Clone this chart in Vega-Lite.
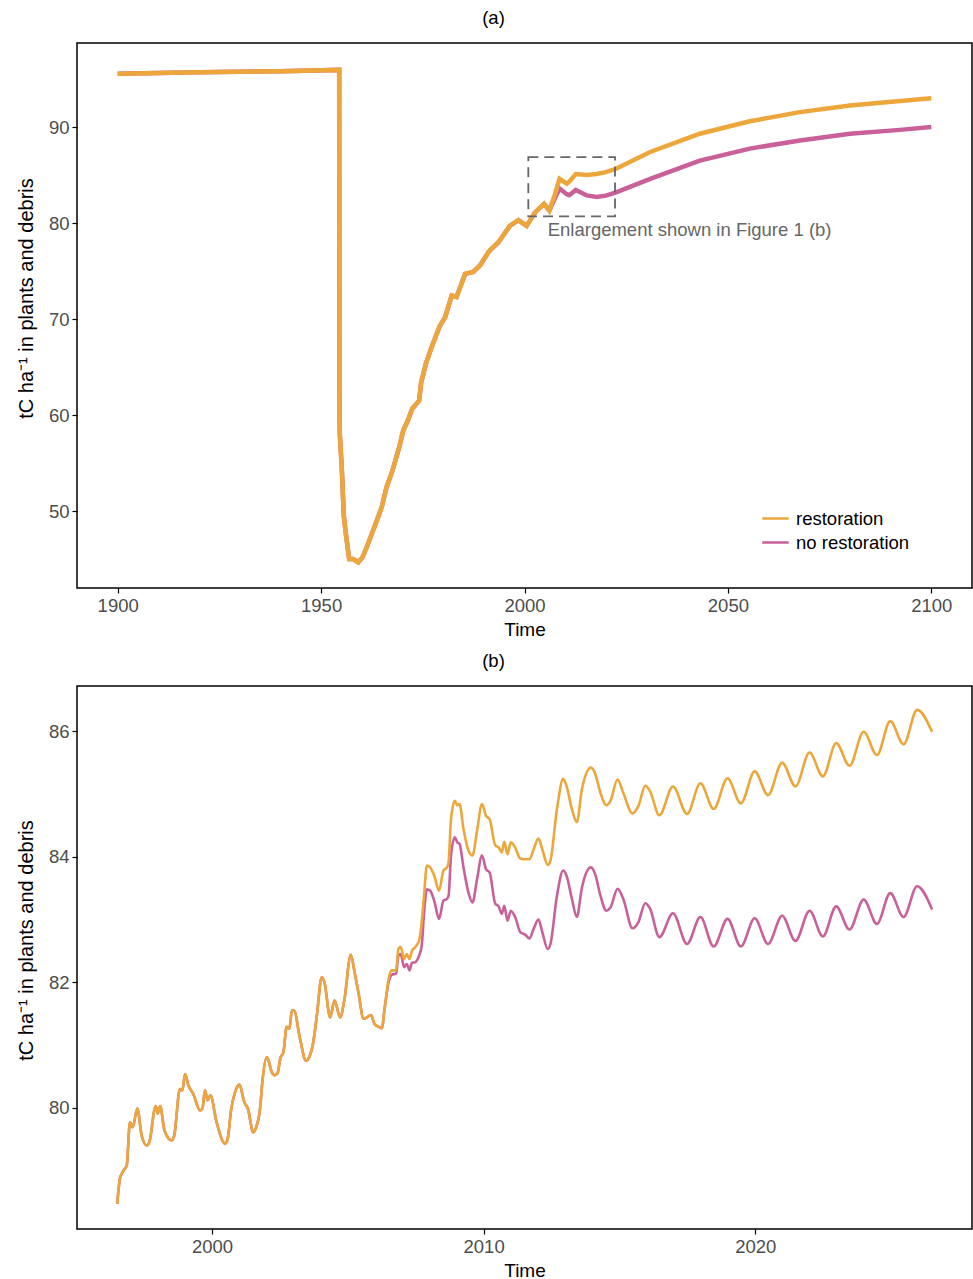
{
  "$schema": "https://vega.github.io/schema/vega-lite/v6.json",
  "background": "white",
  "padding": {"left": 15, "top": 7, "right": 0, "bottom": 0},
  "spacing": 9,
  "config": {
    "font": "Liberation Sans",
    "view": {"stroke": "black", "strokeWidth": 1.5},
    "axis": {"grid": false, "domain": false, "tickColor": "black", "tickWidth": 1.2, "tickSize": 5, "labelColor": "#4d4d4d", "labelFontSize": 18.5, "labelFont": "Liberation Sans", "labelPadding": 3, "titleFontSize": 19, "titleFont": "Liberation Sans", "titleFontWeight": "normal", "titleColor": "black", "titlePadding": 6},
    "axisY": {"titlePadding": 12},
    "legend": {"orient": "none", "title": null, "symbolType": "stroke", "symbolSize": 700, "symbolStrokeWidth": 2.5, "labelFontSize": 18.5, "labelFont": "Liberation Sans", "labelColor": "black", "labelOffset": 6, "rowPadding": -3.5, "padding": 0},
    "title": {"fontSize": 18.5, "fontWeight": "normal", "color": "black", "font": "Liberation Sans", "anchor": "middle", "offset": 16, "dx": -31}
  },
  "datasets": {
    "a": [
      {"t": 1900.0, "r": 95.55, "n": 95.55},
      {"t": 1920.0, "r": 95.7, "n": 95.7},
      {"t": 1940.0, "r": 95.82, "n": 95.82},
      {"t": 1954.45, "r": 95.95, "n": 95.95},
      {"t": 1954.5, "r": 62.5, "n": 62.5},
      {"t": 1954.6, "r": 58.0, "n": 58.0},
      {"t": 1955.07, "r": 54.6, "n": 54.6},
      {"t": 1955.6, "r": 49.4, "n": 49.4},
      {"t": 1956.1, "r": 47.6, "n": 47.6},
      {"t": 1956.9, "r": 45.0, "n": 45.0},
      {"t": 1957.9, "r": 45.0, "n": 45.0},
      {"t": 1959.15, "r": 44.65, "n": 44.65},
      {"t": 1960.2, "r": 45.2, "n": 45.2},
      {"t": 1961.2, "r": 46.2, "n": 46.2},
      {"t": 1962.45, "r": 47.6, "n": 47.6},
      {"t": 1963.7, "r": 49.0, "n": 49.0},
      {"t": 1964.9, "r": 50.4, "n": 50.4},
      {"t": 1966.1, "r": 52.5, "n": 52.5},
      {"t": 1967.4, "r": 54.0, "n": 54.0},
      {"t": 1969.2, "r": 56.65, "n": 56.65},
      {"t": 1970.2, "r": 58.4, "n": 58.4},
      {"t": 1971.3, "r": 59.4, "n": 59.4},
      {"t": 1972.4, "r": 60.65, "n": 60.65},
      {"t": 1974.1, "r": 61.5, "n": 61.5},
      {"t": 1974.6, "r": 63.4, "n": 63.4},
      {"t": 1975.8, "r": 65.4, "n": 65.4},
      {"t": 1977.2, "r": 67.1, "n": 67.1},
      {"t": 1979.1, "r": 69.2, "n": 69.2},
      {"t": 1980.5, "r": 70.2, "n": 70.2},
      {"t": 1982.1, "r": 72.45, "n": 72.45},
      {"t": 1983.3, "r": 72.3, "n": 72.3},
      {"t": 1985.4, "r": 74.7, "n": 74.7},
      {"t": 1987.4, "r": 74.9, "n": 74.9},
      {"t": 1989.1, "r": 75.6, "n": 75.6},
      {"t": 1991.35, "r": 77.1, "n": 77.1},
      {"t": 1993.6, "r": 78.0, "n": 78.0},
      {"t": 1996.4, "r": 79.7, "n": 79.7},
      {"t": 1998.5, "r": 80.3, "n": 80.3},
      {"t": 2000.5, "r": 79.7, "n": 79.7},
      {"t": 2002.6, "r": 81.1, "n": 81.1},
      {"t": 2004.8, "r": 82.0, "n": 82.0},
      {"t": 2006.1, "r": 81.3, "n": 81.3},
      {"t": 2007.5, "r": 83.0, "n": 82.6},
      {"t": 2008.6, "r": 84.6, "n": 83.6},
      {"t": 2010.4, "r": 84.1, "n": 83.0},
      {"t": 2011.0, "r": 84.3, "n": 82.9},
      {"t": 2012.6, "r": 85.1, "n": 83.45},
      {"t": 2015.3, "r": 85.0, "n": 82.87},
      {"t": 2017.7, "r": 85.1, "n": 82.7},
      {"t": 2020.0, "r": 85.3, "n": 82.85},
      {"t": 2022.5, "r": 85.65, "n": 83.2},
      {"t": 2030.9, "r": 87.4, "n": 84.6},
      {"t": 2043.1, "r": 89.3, "n": 86.5},
      {"t": 2055.4, "r": 90.6, "n": 87.75},
      {"t": 2067.7, "r": 91.55, "n": 88.6},
      {"t": 2080.0, "r": 92.25, "n": 89.3},
      {"t": 2092.3, "r": 92.7, "n": 89.7},
      {"t": 2100.0, "r": 93.0, "n": 90.0}
    ],
    "b": [
      {"t": 1996.51, "r": 78.47, "n": 78.47},
      {"t": 1996.61, "r": 78.87, "n": 78.87},
      {"t": 1996.74, "r": 79.0, "n": 79.0},
      {"t": 1996.86, "r": 79.08, "n": 79.08},
      {"t": 1996.98, "r": 79.77, "n": 79.77},
      {"t": 1997.08, "r": 79.69, "n": 79.69},
      {"t": 1997.25, "r": 79.99, "n": 79.99},
      {"t": 1997.41, "r": 79.56, "n": 79.56},
      {"t": 1997.6, "r": 79.4, "n": 79.4},
      {"t": 1997.69, "r": 79.45, "n": 79.45},
      {"t": 1997.93, "r": 80.03, "n": 80.03},
      {"t": 1998.0, "r": 79.91, "n": 79.91},
      {"t": 1998.09, "r": 80.03, "n": 80.03},
      {"t": 1998.25, "r": 79.64, "n": 79.64},
      {"t": 1998.52, "r": 79.48, "n": 79.48},
      {"t": 1998.61, "r": 79.56, "n": 79.56},
      {"t": 1998.82, "r": 80.3, "n": 80.3},
      {"t": 1998.91, "r": 80.28, "n": 80.28},
      {"t": 1999.01, "r": 80.54, "n": 80.54},
      {"t": 1999.13, "r": 80.36, "n": 80.36},
      {"t": 1999.31, "r": 80.22, "n": 80.22},
      {"t": 1999.56, "r": 79.96, "n": 79.96},
      {"t": 1999.65, "r": 79.99, "n": 79.99},
      {"t": 1999.74, "r": 80.28, "n": 80.28},
      {"t": 1999.84, "r": 80.12, "n": 80.12},
      {"t": 1999.94, "r": 80.2, "n": 80.2},
      {"t": 2000.17, "r": 79.77, "n": 79.77},
      {"t": 2000.48, "r": 79.43, "n": 79.43},
      {"t": 2000.58, "r": 79.51, "n": 79.51},
      {"t": 2000.7, "r": 79.96, "n": 79.96},
      {"t": 2000.85, "r": 80.25, "n": 80.25},
      {"t": 2001.01, "r": 80.37, "n": 80.37},
      {"t": 2001.19, "r": 80.09, "n": 80.09},
      {"t": 2001.32, "r": 79.99, "n": 79.99},
      {"t": 2001.52, "r": 79.61, "n": 79.61},
      {"t": 2001.61, "r": 79.67, "n": 79.67},
      {"t": 2001.77, "r": 79.99, "n": 79.99},
      {"t": 2001.86, "r": 80.44, "n": 80.44},
      {"t": 2002.02, "r": 80.81, "n": 80.81},
      {"t": 2002.2, "r": 80.57, "n": 80.57},
      {"t": 2002.3, "r": 80.52, "n": 80.52},
      {"t": 2002.42, "r": 80.56, "n": 80.56},
      {"t": 2002.51, "r": 80.78, "n": 80.78},
      {"t": 2002.63, "r": 80.89, "n": 80.89},
      {"t": 2002.75, "r": 81.29, "n": 81.29},
      {"t": 2002.85, "r": 81.26, "n": 81.26},
      {"t": 2002.94, "r": 81.55, "n": 81.55},
      {"t": 2003.02, "r": 81.55, "n": 81.55},
      {"t": 2003.24, "r": 81.1, "n": 81.1},
      {"t": 2003.46, "r": 80.75, "n": 80.75},
      {"t": 2003.58, "r": 80.81, "n": 80.81},
      {"t": 2003.73, "r": 81.05, "n": 81.05},
      {"t": 2003.86, "r": 81.47, "n": 81.47},
      {"t": 2004.04, "r": 82.08, "n": 82.08},
      {"t": 2004.14, "r": 82.0, "n": 82.0},
      {"t": 2004.35, "r": 81.44, "n": 81.44},
      {"t": 2004.51, "r": 81.71, "n": 81.71},
      {"t": 2004.72, "r": 81.44, "n": 81.44},
      {"t": 2004.88, "r": 81.74, "n": 81.74},
      {"t": 2005.11, "r": 82.44, "n": 82.44},
      {"t": 2005.25, "r": 82.16, "n": 82.16},
      {"t": 2005.39, "r": 81.84, "n": 81.84},
      {"t": 2005.58, "r": 81.42, "n": 81.42},
      {"t": 2005.7, "r": 81.44, "n": 81.44},
      {"t": 2005.85, "r": 81.48, "n": 81.48},
      {"t": 2005.98, "r": 81.34, "n": 81.34},
      {"t": 2006.13, "r": 81.29, "n": 81.29},
      {"t": 2006.25, "r": 81.27, "n": 81.27},
      {"t": 2006.37, "r": 81.63, "n": 81.63},
      {"t": 2006.5, "r": 82.05, "n": 82.0},
      {"t": 2006.62, "r": 82.19, "n": 82.12},
      {"t": 2006.78, "r": 82.19, "n": 82.14},
      {"t": 2006.86, "r": 82.53, "n": 82.42},
      {"t": 2006.95, "r": 82.56, "n": 82.45},
      {"t": 2007.07, "r": 82.37, "n": 82.24},
      {"t": 2007.17, "r": 82.45, "n": 82.29},
      {"t": 2007.27, "r": 82.37, "n": 82.19},
      {"t": 2007.36, "r": 82.5, "n": 82.31},
      {"t": 2007.48, "r": 82.56, "n": 82.32},
      {"t": 2007.62, "r": 82.66, "n": 82.42},
      {"t": 2007.72, "r": 82.95, "n": 82.58},
      {"t": 2007.81, "r": 83.4, "n": 83.12},
      {"t": 2007.91, "r": 83.86, "n": 83.48},
      {"t": 2008.03, "r": 83.83, "n": 83.46},
      {"t": 2008.18, "r": 83.7, "n": 83.3},
      {"t": 2008.36, "r": 83.46, "n": 83.01},
      {"t": 2008.52, "r": 83.78, "n": 83.3},
      {"t": 2008.65, "r": 83.83, "n": 83.33},
      {"t": 2008.71, "r": 83.91, "n": 83.38},
      {"t": 2008.8, "r": 84.6, "n": 84.02},
      {"t": 2008.94, "r": 84.89, "n": 84.31},
      {"t": 2009.03, "r": 84.82, "n": 84.23},
      {"t": 2009.11, "r": 84.84, "n": 84.21},
      {"t": 2009.26, "r": 84.44, "n": 83.83},
      {"t": 2009.44, "r": 84.1, "n": 83.43},
      {"t": 2009.59, "r": 84.02, "n": 83.27},
      {"t": 2009.75, "r": 84.39, "n": 83.62},
      {"t": 2009.94, "r": 84.84, "n": 84.02},
      {"t": 2010.09, "r": 84.65, "n": 83.8},
      {"t": 2010.22, "r": 84.6, "n": 83.75},
      {"t": 2010.43, "r": 84.18, "n": 83.25},
      {"t": 2010.55, "r": 84.15, "n": 83.21},
      {"t": 2010.67, "r": 84.07, "n": 83.09},
      {"t": 2010.76, "r": 84.24, "n": 83.22},
      {"t": 2010.88, "r": 84.04, "n": 82.98},
      {"t": 2011.0, "r": 84.23, "n": 83.14},
      {"t": 2011.16, "r": 84.15, "n": 83.04},
      {"t": 2011.35, "r": 83.97, "n": 82.8},
      {"t": 2011.53, "r": 83.96, "n": 82.76},
      {"t": 2011.69, "r": 83.96, "n": 82.7},
      {"t": 2011.84, "r": 84.12, "n": 82.85},
      {"t": 2012.02, "r": 84.29, "n": 83.0},
      {"t": 2012.16, "r": 84.12, "n": 82.8},
      {"t": 2012.36, "r": 83.87, "n": 82.53},
      {"t": 2012.46, "r": 83.94, "n": 82.61},
      {"t": 2012.7, "r": 84.76, "n": 83.38},
      {"t": 2012.93, "r": 85.24, "n": 83.78},
      {"t": 2013.05, "r": 85.13, "n": 83.7},
      {"t": 2013.25, "r": 84.76, "n": 83.33},
      {"t": 2013.43, "r": 84.55, "n": 83.04},
      {"t": 2013.62, "r": 85.08, "n": 83.51},
      {"t": 2013.95, "r": 85.42, "n": 83.83},
      {"t": 2014.11, "r": 85.32, "n": 83.72},
      {"t": 2014.3, "r": 85.02, "n": 83.38},
      {"t": 2014.52, "r": 84.82, "n": 83.14},
      {"t": 2014.67, "r": 84.89, "n": 83.19},
      {"t": 2014.93, "r": 85.23, "n": 83.49},
      {"t": 2015.14, "r": 85.02, "n": 83.33},
      {"t": 2015.48, "r": 84.69, "n": 82.86},
      {"t": 2015.7, "r": 84.81, "n": 82.96},
      {"t": 2015.95, "r": 85.13, "n": 83.26},
      {"t": 2016.12, "r": 85.05, "n": 83.18},
      {"t": 2016.47, "r": 84.66, "n": 82.72},
      {"t": 2016.97, "r": 85.12, "n": 83.1},
      {"t": 2017.49, "r": 84.68, "n": 82.61},
      {"t": 2017.98, "r": 85.17, "n": 83.04},
      {"t": 2018.47, "r": 84.76, "n": 82.57},
      {"t": 2018.98, "r": 85.25, "n": 83.01},
      {"t": 2019.47, "r": 84.85, "n": 82.57},
      {"t": 2019.98, "r": 85.36, "n": 83.02},
      {"t": 2020.47, "r": 84.98, "n": 82.61},
      {"t": 2020.99, "r": 85.5, "n": 83.06},
      {"t": 2021.48, "r": 85.12, "n": 82.66},
      {"t": 2022.0, "r": 85.66, "n": 83.14},
      {"t": 2022.49, "r": 85.28, "n": 82.73},
      {"t": 2022.98, "r": 85.81, "n": 83.21},
      {"t": 2023.47, "r": 85.45, "n": 82.84},
      {"t": 2023.99, "r": 85.99, "n": 83.32},
      {"t": 2024.48, "r": 85.62, "n": 82.93},
      {"t": 2024.97, "r": 86.16, "n": 83.42},
      {"t": 2025.46, "r": 85.79, "n": 83.04},
      {"t": 2025.96, "r": 86.34, "n": 83.53},
      {"t": 2026.51, "r": 85.99, "n": 83.16}
    ]
  },
  "vconcat": [
    {
      "width": 895,
      "height": 545,
      "title": {"text": "(a)"},
      "layer": [
        {
          "data": {"name": "a"},
          "transform": [{"fold": ["n", "r"], "as": ["series", "value"]}],
          "mark": {"type": "line", "strokeWidth": 4.5, "interpolate": "linear"},
          "encoding": {
            "x": {"field": "t", "type": "quantitative", "scale": {"domain": [1890, 2110], "nice": false, "zero": false}, "axis": {"values": [1900, 1950, 2000, 2050, 2100], "format": "d", "title": "Time"}},
            "y": {"field": "value", "type": "quantitative", "scale": {"domain": [41.98, 98.75], "nice": false, "zero": false}, "axis": {"values": [50, 60, 70, 80, 90], "format": "d", "title": "tC ha⁻¹ in plants and debris", "titleY": 255, "titleFontSize": 20}},
            "color": {"field": "series", "type": "nominal", "scale": {"domain": ["r", "n"], "range": ["#EDA63A", "#C9609A"]}, "legend": {"legendX": 684, "legendY": 461, "labelExpr": "datum.label == 'r' ? 'restoration' : 'no restoration'"}}
          }
        },
        {
          "data": {"values": [{"x1": 2000.94, "x2": 2022.25, "y1": 80.68, "y2": 86.86}]},
          "mark": {"type": "rect", "fillOpacity": 0, "fill": "white", "stroke": "#666666", "strokeWidth": 1.8, "strokeDash": [10, 6]},
          "encoding": {
            "x": {"field": "x1", "type": "quantitative"},
            "x2": {"field": "x2"},
            "y": {"field": "y1", "type": "quantitative"},
            "y2": {"field": "y2"}
          }
        },
        {
          "data": {"values": [{"x": 2005.7, "y": 79.22, "label": "Enlargement shown in Figure 1 (b)"}]},
          "mark": {"type": "text", "align": "left", "baseline": "middle", "fontSize": 18.5, "color": "#666666", "font": "Liberation Sans"},
          "encoding": {
            "x": {"field": "x", "type": "quantitative"},
            "y": {"field": "y", "type": "quantitative"},
            "text": {"field": "label"}
          }
        }
      ]
    },
    {
      "width": 895,
      "height": 543,
      "title": {"text": "(b)"},
      "data": {"name": "b"},
      "transform": [{"fold": ["n", "r"], "as": ["series", "value"]}],
      "mark": {"type": "line", "strokeWidth": 2.6, "interpolate": "monotone"},
      "encoding": {
        "x": {"field": "t", "type": "quantitative", "scale": {"domain": [1995.03, 2027.98], "nice": false, "zero": false}, "axis": {"values": [2000, 2010, 2020], "format": "d", "title": "Time"}},
        "y": {"field": "value", "type": "quantitative", "scale": {"domain": [78.07, 86.72], "nice": false, "zero": false}, "axis": {"values": [80, 82, 84, 86], "format": "d", "title": "tC ha⁻¹ in plants and debris", "titleY": 254, "titleFontSize": 20}},
        "color": {"field": "series", "type": "nominal", "scale": {"domain": ["r", "n"], "range": ["#EDA63A", "#C9609A"]}, "legend": {"legendX": 684, "legendY": 460, "labelExpr": "datum.label == 'r' ? 'restoration' : 'no restoration'"}}
      }
    }
  ]
}
